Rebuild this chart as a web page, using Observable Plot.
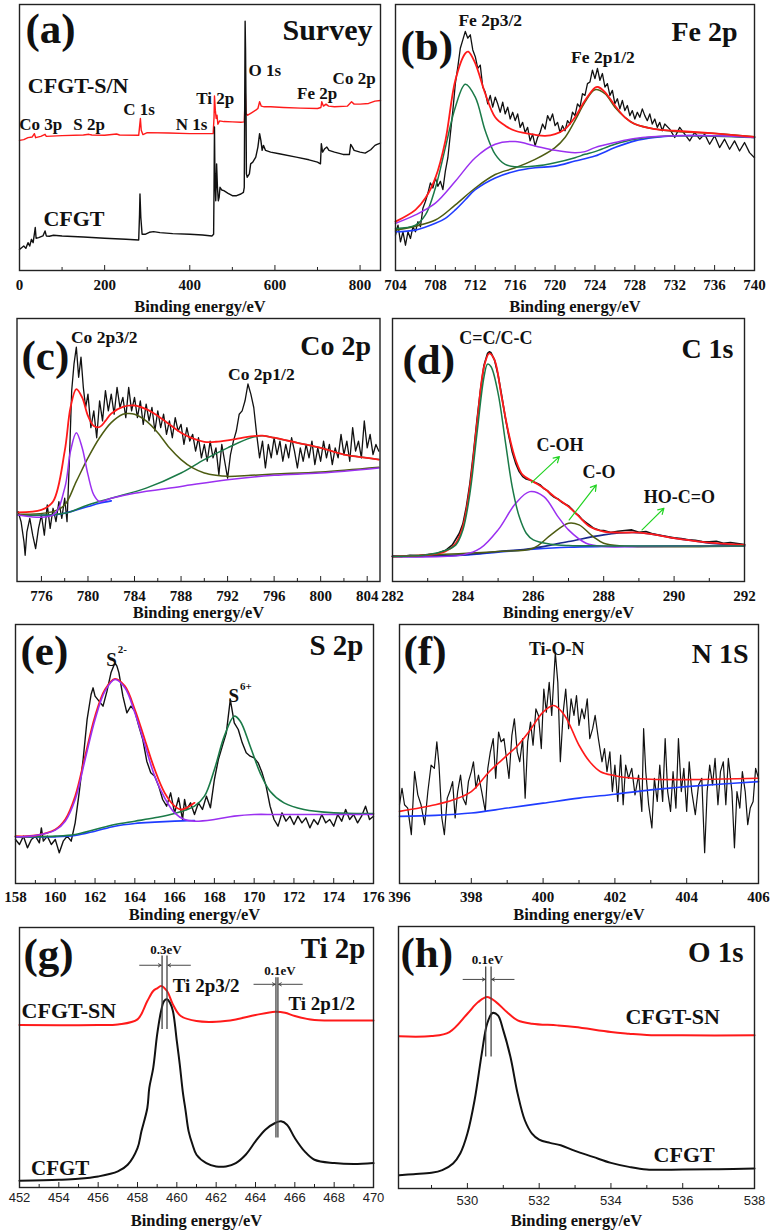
<!DOCTYPE html>
<html><head><meta charset="utf-8">
<script src="https://cdn.jsdelivr.net/npm/d3@7"></script>
<script src="https://cdn.jsdelivr.net/npm/@observablehq/plot@0.6"></script>
<style>
html,body{margin:0;padding:0;background:#fff;}
#fig{position:relative;width:774px;height:1232px;overflow:hidden;background:#fff;}
#fig > svg{position:absolute;}
</style></head><body><div id="fig"></div>
<script>
// ---------------- DATA (binding energy eV, intensity a.u.) ----------------
// (a) Survey
const surveyCFGT = [[0,255],[5,260],[10,265],[15,258],[20,275],[24,265],[28,285],[32,275],[36,310],[37,320],[39,288],[45,290],[55,295],[60,310],[63,295],[70,294],[80,297],[100,295],[150,292],[200,288],[250,285],[280,283],[282,360],[283,420],[285,350],[288,300],[295,300],[305,306],[315,308],[330,305],[360,302],[400,300],[430,298],[452,295],[456,300],[457,440],[458,620],[459,480],[461,400],[463,510],[465,440],[467,400],[469,410],[471,440],[475,432],[480,430],[490,422],[500,415],[510,415],[520,420],[526,425],[528,440],[530,935],[531,850],[532,700],[533,480],[535,470],[540,480],[543,510],[548,515],[555,530],[560,560],[564,600],[567,580],[570,550],[573,565],[578,550],[590,545],[610,540],[650,530],[680,522],[700,515],[707,510],[709,570],[712,545],[717,555],[722,560],[727,550],[740,545],[760,538],[775,538],[778,568],[782,560],[786,550],[800,545],[812,542],[825,552],[835,565],[840,568],[848,572]];
const surveyCFGTSN = [[0,580],[10,582],[20,588],[30,590],[35,600],[38,588],[50,592],[60,598],[63,592],[100,594],[150,596],[163,598],[170,596],[200,595],[228,599],[235,596],[280,595],[282,620],[284,645],[286,610],[290,597],[300,603],[350,602],[400,600],[430,600],[455,600],[457,650],[458,712],[460,670],[462,645],[464,655],[466,628],[470,638],[480,636],[500,635],[520,634],[528,635],[529,670],[530.5,720],[532,660],[536,655],[545,662],[555,670],[560,675],[564,695],[568,682],[575,680],[590,680],[620,678],[660,676],[700,675],[708,678],[710,695],[714,682],[720,688],[726,682],[740,680],[770,682],[780,695],[786,688],[800,688],[820,690],[835,697],[848,699]];
const surveyTicks = [0,200,400,600,800];
const surveyMinor = [100,300,500,700];

// (b) Fe 2p
const feData = [[704,300],[704.25,330],[704.5,280],[704.75,310],[705,270],[705.25,310],[705.5,290],[705.75,325],[706,310],[706.25,340],[706.5,325],[706.75,380],[707,400],[707.25,425],[707.5,455],[707.75,440],[708,470],[708.25,445],[708.5,460],[708.75,435],[709,490],[709.25,530],[709.5,600],[709.75,670],[710,750],[710.25,800],[710.5,855],[710.75,880],[711,905],[711.25,885],[711.5,895],[711.75,850],[712,830],[712.25,795],[712.5,805],[712.75,740],[713,725],[713.25,690],[713.5,715],[713.75,680],[714,710],[714.25,690],[714.5,665],[714.75,695],[715,660],[715.25,680],[715.5,645],[715.75,665],[716,640],[716.25,660],[716.5,620],[716.75,635],[717,605],[717.25,620],[717.5,580],[717.75,600],[718,565],[718.25,590],[718.5,605],[718.75,630],[719,615],[719.25,655],[719.5,640],[719.75,660],[720,625],[720.25,635],[720.5,605],[720.75,625],[721,610],[721.25,640],[721.5,630],[721.75,665],[722,655],[722.25,690],[722.5,680],[722.75,720],[723,715],[723.25,750],[723.5,755],[723.75,790],[724,765],[724.25,795],[724.5,760],[724.75,780],[725,740],[725.25,750],[725.5,715],[725.75,730],[726,690],[726.25,705],[726.5,675],[726.75,700],[727,670],[727.25,685],[727.5,655],[727.75,670],[728,645],[728.25,665],[728.5,650],[728.75,675],[729,655],[729.25,640],[729.5,660],[729.75,630],[730,645],[730.25,620],[730.5,635],[730.75,610],[731,630],[731.5,615],[732,590],[732.5,620],[733,600],[733.5,580],[734,605],[734.5,585],[735,600],[735.5,570],[736,595],[736.5,560],[737,585],[737.5,555],[738,580],[738.5,550],[739,575],[739.5,545],[740,530]];
const feFit = [[704,340],[706,375],[707,410],[708,470],[709,580],[710,760],[711,840],[711.3,845],[712,810],[713,720],[714,650],[715,625],[716,610],[718,598],[719,595],[720,600],[721,615],[722,650],[723,700],[724,738],[724.3,740],[725,725],[726,685],[727,650],[728,630],[730,615],[732,610],[736,602],[740,592]];
const fe2p32 = [[704,320],[706,330],[707,360],[708,440],[709,560],[710,680],[711,748],[712,710],[713,610],[714,540],[715,510],[716,503],[718,505],[720,515],[722,530],[723,540],[724,548],[726,570],[728,585],[732,595],[740,590]];
const fe2p12 = [[704,315],[708,345],[710,390],[712,440],[714,480],[716,500],[718,525],[720,560],[721,590],[722,640],[723,695],[724,732],[725,720],[726,680],[727,650],[728,630],[730,615],[732,608],[736,602],[740,592]];
const feSat = [[704,335],[706,360],[708,395],[710,460],[712,530],[714,570],[716,578],[718,565],[720,552],[722,545],[723,548],[724,560],[726,575],[728,587],[732,595],[736,595],[740,590]];
const feBase = [[704,310],[706,315],[708,335],[709,350],[710,375],[711,405],[712,435],[714,470],[716,490],[718,500],[720,505],[722,520],[724,535],[726,560],[728,580],[730,590],[732,595],[736,595],[740,590]];
const feTicks = [704,708,712,716,720,724,728,732,736,740];
const feMinor = [706,710,714,718,722,726,730,734,738];

// (c) Co 2p
const coData = [[774,370],[774.25,340],[774.5,280],[774.6,240],[774.75,310],[775,350],[775.25,300],[775.5,260],[775.75,320],[776,360],[776.25,300],[776.5,390],[776.75,320],[777,380],[777.25,340],[777.5,400],[777.75,350],[778,410],[778.2,340],[778.4,520],[778.6,730],[778.8,810],[779,860],[779.2,770],[779.4,830],[779.6,740],[779.8,680],[780,720],[780.25,620],[780.5,670],[780.75,590],[781,700],[781.25,640],[781.5,730],[781.75,670],[782,720],[782.25,660],[782.5,740],[782.75,680],[783,710],[783.25,650],[783.5,740],[783.75,670],[784,710],[784.25,650],[784.5,700],[784.75,630],[785,690],[785.25,640],[785.5,680],[785.75,610],[786,670],[786.25,620],[786.5,660],[786.75,600],[787,640],[787.25,590],[787.5,650],[787.75,610],[788,630],[788.25,570],[788.5,620],[788.75,580],[789,600],[789.25,550],[789.5,590],[789.75,530],[790,570],[790.25,520],[790.5,580],[790.75,530],[791,560],[791.25,480],[791.5,570],[791.75,520],[792,470],[792.25,540],[792.5,580],[792.75,610],[793,660],[793.25,670],[793.5,700],[793.75,750],[794,720],[794.25,680],[794.5,600],[794.75,530],[795,580],[795.25,500],[795.5,570],[795.75,530],[796,590],[796.25,540],[796.5,580],[796.75,520],[797,570],[797.25,530],[797.5,590],[797.75,550],[798,500],[798.25,560],[798.5,520],[798.75,570],[799,530],[799.25,580],[799.5,510],[799.75,560],[800,520],[800.25,580],[800.5,530],[800.75,570],[801,510],[801.25,560],[801.5,530],[801.75,600],[802,540],[802.25,580],[802.5,520],[802.75,620],[803,550],[803.25,580],[803.5,530],[803.75,640],[804,560],[804.25,600],[804.5,540],[804.75,570],[805,550]];
const coFit = [[774,368],[776,375],[777,400],[778,550],[778.5,680],[779,735],[779.5,710],[780,655],[780.5,625],[781,622],[781.5,640],[782,662],[783,682],[784,686],[785,675],[786,655],[787,630],[788,605],[789,588],[790,578],[791,578],[792,582],[793,588],[794,594],[795,596],[796,590],[798,575],[800,560],[802,540],[804,530],[805,525]];
const co2p32 = [[774,360],[777,360],[778,440],[778.5,550],[779,605],[779.5,560],[780,480],[780.5,420],[781,400],[782,410],[784,425],[788,445],[792,465],[796,478],[800,485],[805,500]];
const coSat = [[774,362],[777,370],[778,390],[779,460],[780,530],[781,590],[782,635],[783,660],[783.5,662],[784,660],[785,640],[786,605],[787,560],[788,525],[789,500],[790,485],[791,478],[792,475],[794,478],[796,482],[800,488],[805,502]];
const co2p12 = [[774,360],[778,365],[780,390],[782,410],[785,440],[788,485],[790,525],[792,560],[794,590],[795,596],[796,590],[798,575],[800,560],[802,540],[804,530],[805,525]];
const coBase = [[774,360],[777,360],[778,365],[779,375],[780,385],[781,395],[782,402]];
const coTicks = [776,780,784,788,792,796,800,804];
const coMinor = [778,782,786,790,794,798,802];

// (d) C 1s
const cData = [[282,232],[282.25,230],[282.5,234],[282.75,233],[283,236],[283.25,238],[283.5,248],[283.7,265],[283.9,300],[284,328],[284.1,380],[284.2,450],[284.3,540],[284.4,640],[284.5,730],[284.6,805],[284.7,840],[284.75,845],[284.8,842],[284.9,820],[285,775],[285.1,715],[285.2,650],[285.3,595],[285.4,545],[285.5,510],[285.6,485],[285.7,470],[285.8,463],[285.9,460],[286,455],[286.1,450],[286.2,445],[286.3,434],[286.4,428],[286.5,416],[286.6,408],[286.7,403],[286.8,394],[286.9,388],[287,382],[287.1,372],[287.2,360],[287.3,352],[287.4,340],[287.5,332],[287.6,324],[287.7,316],[287.8,312],[287.9,308],[288,308],[288.2,302],[288.4,306],[288.6,308],[288.8,310],[289,303],[289.2,305],[289.4,298],[289.6,294],[289.8,290],[290,286],[290.2,284],[290.4,280],[290.6,279],[290.8,275],[291,274],[291.2,276],[291.4,270],[291.6,272],[291.8,269],[292,266]];
const cFit = [[282,230],[283,235],[283.5,245],[283.8,270],[284,320],[284.2,440],[284.4,630],[284.6,800],[284.75,840],[284.9,820],[285.1,710],[285.3,600],[285.5,520],[285.7,475],[286,455],[286.3,435],[286.6,410],[287,380],[287.3,350],[287.6,320],[288,305],[288.5,302],[289,302],[289.5,295],[290,285],[290.5,278],[291,272],[291.5,268],[292,265]];
const cCC = [[282,230],[283,235],[283.5,248],[283.8,265],[284,310],[284.2,420],[284.4,600],[284.6,770],[284.7,808],[284.8,800],[285,720],[285.2,580],[285.4,440],[285.6,350],[285.8,300],[286,280],[286.5,267],[287,263],[288,262],[290,262],[292,262]];
const cCOH = [[282,230],[284,235],[284.5,255],[285,310],[285.5,390],[285.9,425],[286.3,410],[286.7,350],[287,310],[287.5,270],[288,260],[289,260],[292,262]];
const cCO = [[282,230],[285,245],[286,255],[286.5,295],[287,330],[287.3,325],[287.7,290],[288,270],[288.5,262],[292,262]];
const cCOOH = [[282,230],[284,235],[285,245],[286,255],[287,275],[288,295],[288.8,302],[289.5,295],[290,285],[290.5,278],[291,270],[292,265]];
const cBase = [[282,230],[284,234],[285,243],[286,252],[287,258],[288,260],[292,262]];
const cTicks = [282,284,286,288,290,292];
const cMinor = [283,285,287,289,291];

// (e) S 2p
const sData = [[158,300],[158.2,285],[158.4,310],[158.6,275],[158.8,300],[159,310],[159.2,290],[159.3,335],[159.4,295],[159.6,310],[159.8,285],[160,300],[160.1,280],[160.2,260],[160.4,295],[160.6,310],[160.8,295],[161,350],[161.2,440],[161.4,540],[161.6,660],[161.8,735],[161.9,755],[162,730],[162.2,715],[162.4,700],[162.6,745],[162.8,800],[163,830],[163.1,820],[163.2,800],[163.4,730],[163.6,680],[163.8,700],[164,685],[164.2,640],[164.4,600],[164.6,535],[164.8,500],[165,490],[165.2,460],[165.4,420],[165.6,400],[165.8,440],[166,380],[166.2,425],[166.4,360],[166.5,420],[166.6,390],[166.8,410],[167,375],[167.2,410],[167.4,390],[167.6,430],[167.8,395],[168,480],[168.2,540],[168.4,580],[168.6,620],[168.8,720],[169,650],[169.2,630],[169.4,590],[169.6,560],[169.8,550],[170,545],[170.2,530],[170.4,500],[170.6,460],[170.8,400],[171,360],[171.2,340],[171.4,380],[171.6,355],[171.8,370],[172,345],[172.2,370],[172.4,350],[172.6,365],[172.8,335],[173,360],[173.2,345],[173.4,375],[173.6,350],[173.8,360],[174,340],[174.2,375],[174.4,355],[174.6,390],[174.8,360],[175,375],[175.2,350],[175.4,370],[175.6,400],[175.8,360],[176,370]];
const sFit = [[158,310],[159,312],[160,330],[160.5,360],[161,430],[161.5,550],[162,670],[162.5,750],[163,782],[163.5,760],[164,690],[164.5,600],[165,510],[165.5,440],[166,400],[166.3,390],[166.6,395],[167,410]];
const sS2 = [[158,308],[159,312],[160,328],[160.5,355],[161,420],[161.5,540],[162,660],[162.5,745],[163,780],[163.5,755],[164,680],[164.5,585],[165,490],[165.5,425],[166,380],[166.5,360],[167,355],[168,360],[169,370],[170,375],[171,375],[172,375],[174,375],[176,375]];
const sS6 = [[158,308],[160,310],[161,315],[162,330],[163,345],[164,355],[165,365],[166,378],[167,400],[167.5,430],[168,510],[168.5,610],[169,670],[169.3,655],[169.8,580],[170.3,500],[170.8,445],[171.5,410],[172.5,390],[174,380],[176,378]];
const sBase = [[158,308],[160,308],[161,312],[162,325],[163,340],[164,348],[165,352],[166,355],[167,357]];
const sTicks = [158,160,162,164,166,168,170,172,174,176];
const sMinor = [159,161,163,165,167,169,171,173,175];

// (f) N 1s
const nData = [[396,400],[396.07,450],[396.14,400],[396.23,390],[396.33,310],[396.42,500],[396.51,430],[396.6,400],[396.7,340],[396.79,440],[396.88,520],[396.97,510],[397.04,590],[397.1,520],[397.18,360],[397.25,310],[397.33,420],[397.4,440],[397.48,470],[397.55,360],[397.62,440],[397.7,490],[397.77,420],[397.85,400],[397.92,470],[398,500],[398.06,530],[398.13,450],[398.2,490],[398.29,440],[398.39,380],[398.46,510],[398.53,560],[398.61,600],[398.68,480],[398.76,620],[398.83,590],[398.91,600],[398.98,540],[399.05,480],[399.13,610],[399.2,660],[399.28,560],[399.35,530],[399.43,600],[399.5,420],[399.57,590],[399.65,650],[399.72,580],[399.8,690],[399.87,670],[399.95,570],[400.02,750],[400.09,680],[400.17,770],[400.24,670],[400.34,860],[400.41,770],[400.48,530],[400.56,680],[400.63,750],[400.71,630],[400.78,720],[400.86,670],[400.93,730],[401,640],[401.08,690],[401.15,660],[401.23,720],[401.3,600],[401.38,630],[401.45,670],[401.54,600],[401.64,530],[401.71,570],[401.78,500],[401.86,560],[401.93,440],[402,520],[402.08,410],[402.16,550],[402.23,400],[402.3,520],[402.38,480],[402.47,510],[402.56,430],[402.66,490],[402.75,380],[402.8,630],[402.86,500],[402.94,400],[403.03,330],[403.1,480],[403.18,410],[403.25,520],[403.33,410],[403.4,600],[403.47,440],[403.55,380],[403.62,500],[403.7,390],[403.77,600],[403.85,440],[403.92,510],[404,380],[404.07,530],[404.14,440],[404.24,370],[404.33,460],[404.42,480],[404.5,255],[404.57,440],[404.64,520],[404.72,460],[404.79,540],[404.87,400],[404.94,500],[405.02,530],[405.09,400],[405.16,540],[405.26,440],[405.33,270],[405.4,440],[405.48,390],[405.55,500],[405.63,440],[405.7,340],[405.77,390],[405.85,410],[405.92,510],[406,480]];
const nFit = [[396,380],[397,400],[397.5,415],[398,440],[398.5,500],[399,550],[399.3,580],[399.6,620],[400,680],[400.3,700],[400.6,670],[401,580],[401.3,530],[401.6,500],[402,488],[402.5,480],[403,477],[404,476],[405,478],[406,480]];
const nBase = [[396,365],[397,368],[398,375],[399,390],[400,405],[401,420],[402,432],[403,445],[404,455],[405,463],[406,470]];
const nTicks = [396,398,400,402,404,406];
const nMinor = [397,399,401,403,405];

// (g) Ti 2p
const tiCFGT = [[452,162],[454,165],[455,168],[456,175],[457,190],[457.5,210],[458,260],[458.2,310],[458.5,380],[458.6,440],[458.8,500],[459,600],[459.2,670],[459.35,700],[459.5,705],[459.65,695],[459.8,670],[460,580],[460.15,510],[460.3,430],[460.45,370],[460.6,310],[460.8,270],[461,240],[461.5,215],[462,205],[462.5,205],[463,215],[463.5,240],[464,280],[464.5,315],[465,335],[465.3,340],[465.6,330],[466,290],[466.5,250],[467,225],[468,215],[469,212],[470,215]];
const tiCFGTSN = [[452,628],[456,628],[457,630],[458,645],[458.5,700],[458.8,730],[459,738],[459.2,745],[459.5,730],[459.8,690],[460.2,655],[461,640],[462,638],[463,645],[464,658],[465,668],[465.5,665],[466,655],[467,643],[468,642],[470,642]];
const tiTicks = [452,454,456,458,460,462,464,466,468,470];
const tiMinor = [453,455,457,459,461,463,465,467,469];

// (h) O 1s
const oCFGT = [[528.1,175],[528.5,178],[529,182],[529.3,190],[529.6,210],[529.8,240],[530,300],[530.2,400],[530.4,540],[530.55,630],[530.7,662],[530.85,655],[531,610],[531.2,530],[531.4,420],[531.6,340],[531.8,300],[532,282],[532.3,272],[532.6,265],[533,248],[533.5,230],[534,212],[534.5,200],[535,192],[536,192],[537,193],[538,195]];
const oCFGTSN = [[528.1,592],[529,593],[529.5,605],[530,660],[530.3,695],[530.55,710],[530.8,695],[531.1,665],[531.4,640],[531.8,630],[532.5,625],[533,620],[534,605],[534.5,600],[535,596],[536,595],[538,595]];
const oTicks = [530,532,534,536,538];
const oMinor = [529,531,533,535,537];

// ---------------- RENDERING ----------------
const SERIF = "'Liberation Serif','Times New Roman',serif";
const SANS = "'Liberation Sans',Arial,sans-serif";
const C = {data:"#111", fit:"#ff1a1a", green:"#1b7a48", olive:"#4d5c12", purple:"#9b30f0", blue:"#1f3cff", navy:"#1c2a8c", arrow:"#22d322", ann:"#333"};
const XLABEL = "Binding energy/eV";
const fig = document.getElementById("fig");

function panel(p) {
  const [L, R, T, B] = p.frame, [x0, y0, w, h] = p.box;
  const bold = {fontFamily: SERIF, fontWeight: "bold", fill: "#111"};
  const marks = [];
  for (const c of p.curves) {
    marks.push(Plot.line(c.data, {x: d => d[0], y: d => d[1], stroke: c.color, strokeWidth: c.w ?? 1.5,
      curve: c.smooth ? "catmull-rom" : "linear", strokeLinejoin: "round"}));
  }
  for (const r of (p.rules || [])) {
    marks.push(Plot.ruleX([r], {x: d => d[0], y1: d => d[1], y2: d => d[2], stroke: "#444", strokeWidth: 1.3}));
  }
  for (const a of (p.arrows || [])) {
    marks.push(Plot.arrow(a.data, {x1: d => d[0], y1: d => d[1], x2: d => d[2], y2: d => d[3], stroke: a.color, strokeWidth: a.w ?? 1, headLength: a.head ?? 6}));
  }
  marks.push(Plot.frame({stroke: "#222", strokeWidth: 1.4}));
  marks.push(Plot.axisX(p.minor, {tickSize: -3, tickFormat: () => "", label: null, stroke: "#222"}));
  marks.push(Plot.axisX(p.ticks, {tickSize: -5, tickFormat: () => "", label: null, stroke: "#222"}));
  const tickFont = p.sansTicks ? {fontFamily: SANS, fontWeight: "normal", fill: "#222", fontSize: 13} : {...bold, fontSize: 15};
  marks.push(Plot.text(p.ticks, {x: d => d, text: d => String(d), frameAnchor: "bottom", dy: p.tickDy, lineAnchor: "middle", ...tickFont}));
  marks.push(Plot.text([XLABEL], {frameAnchor: "bottom", dy: p.labelDy, lineAnchor: "bottom", fontSize: 16.5, ...bold}));
  marks.push(Plot.text([p.letter], {frameAnchor: "top-left", dx: p.letterPos[0], dy: p.letterPos[1], textAnchor: "start", lineAnchor: "bottom", fontSize: 43, ...bold}));
  marks.push(Plot.text([p.title], {frameAnchor: "top-right", dx: p.titlePos[0], dy: p.titlePos[1], textAnchor: "end", lineAnchor: "bottom", fontSize: p.titleSize, ...bold}));
  for (const n of (p.notes || [])) {
    marks.push(Plot.text([n], {x: d => d[0], y: d => d[1], text: d => d[2], textAnchor: "middle", lineAnchor: "bottom", fontSize: n[3], ...bold}));
  }
  const svg = Plot.plot({
    width: w, height: h,
    marginLeft: L - x0, marginRight: x0 + w - R, marginTop: T - y0, marginBottom: y0 + h - B,
    x: {domain: p.xDomain},
    y: {domain: p.yDomain, axis: null},
    style: {fontFamily: SERIF, background: "transparent", overflow: "visible"},
    marks
  });
  svg.style.left = x0 + "px";
  svg.style.top = y0 + "px";
  fig.appendChild(svg);
}

// (a)
panel({box: [0, 0, 387, 316], frame: [19, 380, 4, 270], xDomain: [0, 848], yDomain: [192, 985],
  ticks: surveyTicks, minor: surveyMinor, tickDy: 15, labelDy: 41,
  letter: "(a)", letterPos: [6, 38.5], title: "Survey", titlePos: [-8, 35.5], titleSize: 30,
  curves: [{data: surveyCFGTSN, color: C.fit, w: 1.4}, {data: surveyCFGT, color: C.data, w: 1.4}],
  notes: [[137.8, 720, "CFGT-S/N", 22], [128, 325, "CFGT", 22], [281, 657, "C 1s", 17], [50, 610, "Co 3p", 17], [163.6, 610, "S 2p", 17],
          [404, 610, "N 1s", 17], [460, 688, "Ti 2p", 17], [576, 772, "O 1s", 17], [699, 702, "Fe 2p", 17], [786, 748, "Co 2p", 17]]});

// (b)
panel({box: [387, 0, 387, 316], frame: [395, 754, 4, 270], xDomain: [704, 740], yDomain: [195, 985],
  ticks: feTicks, minor: feMinor, tickDy: 15, labelDy: 41,
  letter: "(b)", letterPos: [5, 55.5], title: "Fe 2p", titlePos: [-17, 36.7], titleSize: 28,
  curves: [{data: feData, color: C.data, w: 1.3}, {data: feBase, color: C.blue, w: 1.6, smooth: true},
           {data: fe2p12, color: C.olive, w: 1.5, smooth: true}, {data: fe2p32, color: C.green, w: 1.5, smooth: true},
           {data: feSat, color: C.purple, w: 1.5, smooth: true}, {data: feFit, color: C.fit, w: 1.8, smooth: true}],
  notes: [[713.5, 922, "Fe 2p3/2", 17.5], [724.8, 812, "Fe 2p1/2", 17.5]]});

// (c)
panel({box: [0, 316, 387, 306], frame: [16.5, 379.5, 318, 581], xDomain: [773.9, 805.1], yDomain: [162, 945],
  ticks: coTicks, minor: coMinor, tickDy: 15, labelDy: 36,
  letter: "(c)", letterPos: [4.5, 51], title: "Co 2p", titlePos: [-9, 36], titleSize: 28,
  curves: [{data: coData, color: C.data, w: 1.3}, {data: coBase, color: C.blue, w: 1.6, smooth: true},
           {data: co2p12, color: C.green, w: 1.5, smooth: true}, {data: coSat, color: C.olive, w: 1.5, smooth: true},
           {data: co2p32, color: C.purple, w: 1.5, smooth: true}, {data: coFit, color: C.fit, w: 1.8, smooth: true}],
  notes: [[781.4, 872, "Co 2p3/2", 17.5], [794.9, 762, "Co 2p1/2", 17.5]]});

// (d)
panel({box: [387, 316, 387, 306], frame: [392, 744, 318, 581], xDomain: [282, 292], yDomain: [155, 945],
  ticks: cTicks, minor: cMinor, tickDy: 15, labelDy: 36,
  letter: "(d)", letterPos: [10, 55], title: "C 1s", titlePos: [-11, 39], titleSize: 28,
  curves: [{data: cData, color: C.data, w: 1.6}, {data: cBase, color: C.blue, w: 1.6, smooth: true},
           {data: cCOOH, color: C.navy, w: 1.6, smooth: true}, {data: cCO, color: C.olive, w: 1.5, smooth: true},
           {data: cCOH, color: C.purple, w: 1.5, smooth: true}, {data: cFit, color: C.fit, w: 1.8, smooth: true},
           {data: cCC, color: C.green, w: 1.5, smooth: true}],
  arrows: [{data: [[285.95, 452, 286.74, 530], [287.02, 340, 287.79, 445], [289.09, 310, 289.71, 375]], color: C.arrow, w: 1.2, head: 8}],
  notes: [[284.94, 867, "C=C/C-C", 18], [286.76, 548, "C-OH", 18], [287.87, 467, "C-O", 18], [290.15, 392, "HO-C=O", 18]]});

// (e)
panel({box: [0, 622, 387, 302], frame: [15, 373, 624, 883], xDomain: [158, 176], yDomain: [168, 945],
  ticks: sTicks, minor: sMinor, tickDy: 14, labelDy: 36,
  letter: "(e)", letterPos: [5, 40.5], title: "S 2p", titlePos: [-10, 30], titleSize: 29,
  curves: [{data: sData, color: C.data, w: 1.4}, {data: sBase, color: C.blue, w: 1.6, smooth: true},
           {data: sS6, color: C.green, w: 1.6, smooth: true}, {data: sFit, color: C.fit, w: 1.8, smooth: true},
           {data: sS2, color: C.purple, w: 1.6, smooth: true}],
  notes: [[162.83, 822, "S", 19], [163.37, 860, "2-", 11], [168.97, 712, "S", 19], [169.58, 750, "6+", 11]]});

// (f)
panel({box: [387, 622, 387, 302], frame: [399, 758, 624, 883], xDomain: [396, 406], yDomain: [162, 945],
  ticks: nTicks, minor: nMinor, tickDy: 14, labelDy: 36,
  letter: "(f)", letterPos: [4, 40.5], title: "N 1S", titlePos: [-10, 38], titleSize: 28,
  curves: [{data: nData, color: C.data, w: 1.2}, {data: nBase, color: C.blue, w: 1.6, smooth: true},
           {data: nFit, color: C.fit, w: 1.6, smooth: true}],
  notes: [[400.38, 852, "Ti-O-N", 18]]});

// (g)
panel({box: [0, 924, 387, 308], frame: [19, 373, 927, 1187], xDomain: [452, 470], yDomain: [142, 920],
  ticks: tiTicks, minor: tiMinor, tickDy: 10, labelDy: 38, sansTicks: true,
  letter: "(g)", letterPos: [4, 40.5], title: "Ti 2p", titlePos: [-8, 30], titleSize: 29,
  curves: [{data: tiCFGTSN, color: C.fit, w: 2, smooth: true}, {data: tiCFGT, color: C.data, w: 2, smooth: true}],
  rules: [[459.25, 835, 615], [459.5, 835, 615], [465.04, 770, 290], [465.14, 770, 290]],
  arrows: [{data: [[458.11, 807, 459.2, 807], [460.69, 807, 459.55, 807], [463.92, 750, 465.0, 750], [466.38, 750, 465.18, 750]], color: C.ann, w: 0.9, head: 5}],
  notes: [[459.45, 840, "0.3eV", 13], [465.24, 778, "0.1eV", 13], [461.49, 728, "Ti 2p3/2", 19], [467.37, 672, "Ti 2p1/2", 19],
          [454.51, 650, "CFGT-SN", 22], [454.07, 180, "CFGT", 21]]});

// (h)
panel({box: [387, 924, 387, 308], frame: [398, 754, 926, 1188], xDomain: [528.08, 538], yDomain: [135, 922],
  ticks: oTicks, minor: oMinor, tickDy: 12, labelDy: 37, sansTicks: true,
  letter: "(h)", letterPos: [2, 40], title: "O 1s", titlePos: [-11, 35.7], titleSize: 29,
  curves: [{data: oCFGTSN, color: C.fit, w: 2, smooth: true}, {data: oCFGT, color: C.data, w: 2, smooth: true}],
  rules: [[530.51, 800, 530], [530.66, 800, 530]],
  arrows: [{data: [[529.88, 763, 530.49, 763], [531.3, 763, 530.68, 763]], color: C.ann, w: 0.9, head: 5}],
  notes: [[530.56, 810, "0.1eV", 13], [535.72, 628, "CFGT-SN", 22], [536.04, 215, "CFGT", 22]]});
</script>
</body></html>
